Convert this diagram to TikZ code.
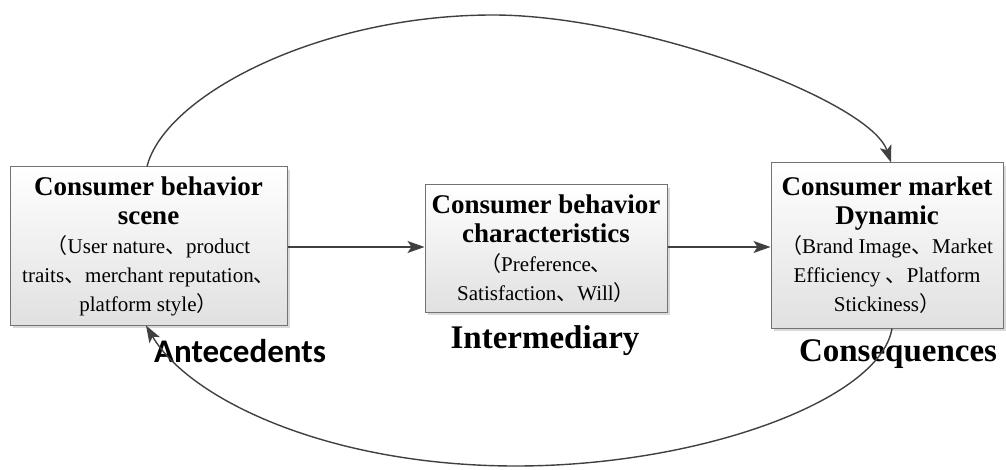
\documentclass[tikz,border=0pt]{standalone}
\usepackage{fontspec}
\setmainfont{Liberation Serif}
\newfontfamily\cjk{Noto Sans CJK SC}
\newfontfamily\carl{Carlito}
\usetikzlibrary{arrows.meta,shadows}
\newcommand{\dn}{{\cjk 、}}
\newcommand{\lp}{{\cjk （}}
\newcommand{\rp}{{\cjk ）}}
\newcommand{\ttl}[1]{{\fontsize{27}{31}\selectfont\bfseries #1}}
\begin{document}
\begin{tikzpicture}[x=1pt,y=-1pt,
  box/.style={draw=black!55, line width=1pt, top color=white, bottom color=black!12,
    drop shadow={shadow xshift=3pt, shadow yshift=-3pt, fill=black!25, opacity=0.6},
    align=center, inner sep=0pt, font=\fontsize{21}{29}\selectfont},
  conn/.style={draw=black!75, line width=1.4pt, -{Stealth[length=17pt,width=12pt,inset=4pt]}},
  lbl/.style={inner sep=0pt, anchor=base, font=\fontsize{33}{36}\selectfont\bfseries}]
\useasboundingbox (0,0) rectangle (1006,470);
\node[box, minimum width=277pt, minimum height=158pt] (b1) at (148.5,246)
  {\ttl{Consumer behavior}\\\ttl{scene}\\ \lp User nature\dn product\\traits\dn merchant reputation\dn\\platform style\rp};
\node[box, minimum width=242pt, minimum height=127pt] (b2) at (546,248.5)
  {\ttl{Consumer behavior}\\\ttl{characteristics}\\\lp Preference\dn\\Satisfaction\dn Will\rp};
\node[box, minimum width=232pt, minimum height=165pt] (b3) at (887,245.5)
  {\ttl{Consumer market}\\\ttl{Dynamic}\\\lp Brand Image\dn Market\\Efficiency \dn Platform\\Stickiness\rp};
\node[lbl, font=\fontsize{33}{36}\selectfont\carl\bfseries] (a) at (240,362) {Antecedents};
\node[lbl] (i) at (545,348) {Intermediary};
\node[lbl] (c) at (898,361) {Consequences};
\coordinate (s1) at (b1.north -| 147,0);
\coordinate (e1) at (b3.north -| 891,0);
\coordinate (s2) at (b3.south -| 892,0);
\coordinate (e2) at (b1.south -| 146,0);
\coordinate (top) at (493,15);
\coordinate (bot) at (516,466);
\draw[conn] (b1.east |- 0,247) -- (b2.west |- 0,247);
\draw[conn] (b2.east |- 0,247) -- (b3.west |- 0,247);
\draw[conn] (s1) .. controls (165,95) and (320,15) .. (top) .. controls (640,15) and (870,100) .. (e1);
\draw[conn] (s2) .. controls (880,400) and (700,466) .. (bot) .. controls (330,466) and (190,400) .. (e2);
\end{tikzpicture}
\end{document}
